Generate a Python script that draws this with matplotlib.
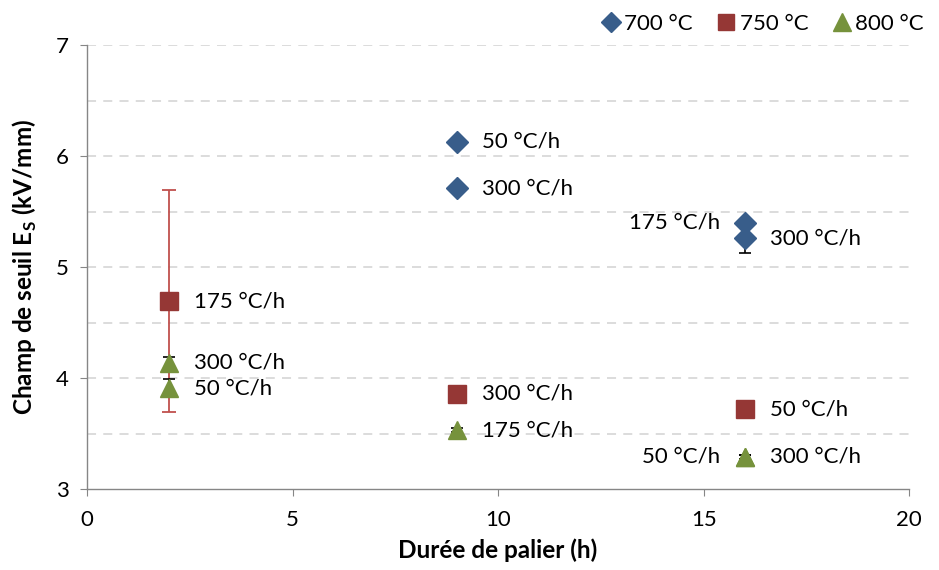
import matplotlib
matplotlib.use("Agg")
import matplotlib.pyplot as plt
from matplotlib.lines import Line2D

plt.rcParams['font.family'] = ['Lato', 'DejaVu Sans']

# Dwell time (h), threshold field (kV/mm), error, ramp label for each series
x700 = [9, 9, 16, 16]
y700 = [6.13, 5.71, 5.40, 5.26]
e700 = [0.02, 0.02, 0.02, 0.13]
lab700 = ["50 °C/h", "300 °C/h", "175 °C/h", "300 °C/h"]
side700 = ["right", "right", "left", "right"]

x750 = [2, 9, 16]
y750 = [4.69, 3.86, 3.72]
e750 = [1.0, 0.0, 0.0]
lab750 = ["175 °C/h", "300 °C/h", "50 °C/h"]
side750 = ["right", "right", "right"]

x800 = [2, 2, 9, 16, 16]
y800 = [4.14, 3.91, 3.53, 3.29, 3.29]
e800 = [0.05, 0.08, 0.02, 0.02, 0.02]
lab800 = ["300 °C/h", "50 °C/h", "175 °C/h", "50 °C/h", "300 °C/h"]
side800 = ["right", "right", "right", "left", "right"]

c_blue = "#385D8A"
c_red = "#953735"
c_green = "#76923C"

fs = 16
fs_lab = 17.5

fig = plt.figure(figsize=(9.39, 5.70), dpi=100)
ax = fig.add_axes([0.0927, 0.142, 0.8755, 0.779])

ax.set_xlim(0, 20)
ax.set_ylim(3, 7)
ax.set_xticks([0, 5, 10, 15, 20])
ax.set_yticks([3, 4, 5, 6, 7])
for y in [3.5, 4, 4.5, 5, 5.5, 6, 6.5, 7]:
    ax.axhline(y, color="#D9D9D9", lw=1.3, ls=(0, (5, 4)), zorder=0)

for s in ["top", "right"]:
    ax.spines[s].set_visible(False)
for s in ["left", "bottom"]:
    ax.spines[s].set_color("#868686")
    ax.spines[s].set_linewidth(1.0)
ax.tick_params(axis='both', which='major', colors="#868686", labelcolor="black",
               labelsize=fs, length=5, direction='out')
ax.tick_params(axis='x', pad=10)
ax.tick_params(axis='y', pad=8)

ms = 13
ax.errorbar(x750, y750, yerr=e750, fmt='none', ecolor="#C0504D", elinewidth=1.3,
            capsize=5, capthick=1.3, zorder=2)
ax.errorbar(x700, y700, yerr=e700, fmt='none', ecolor="black", elinewidth=1.2,
            capsize=4.5, capthick=1.2, zorder=2)
ax.errorbar(x800, y800, yerr=e800, fmt='none', ecolor="black", elinewidth=1.2,
            capsize=4.5, capthick=1.2, zorder=2)

ax.plot(x700, y700, 'D', color=c_blue, ms=ms * 0.85, ls='none', zorder=3)
ax.plot(x750, y750, 's', color=c_red, ms=ms * 0.95, ls='none', zorder=3)
ax.plot(x800, y800, '^', color=c_green, ms=ms * 1.05, ls='none', zorder=3)

def annotate(xs, ys, labels, sides):
    for xv, yv, t, sd in zip(xs, ys, labels, sides):
        if sd == "right":
            ax.annotate(t, (xv, yv), xytext=(18, 0), textcoords='offset points',
                        ha='left', va='center', fontsize=fs)
        else:
            ax.annotate(t, (xv, yv), xytext=(-18, 0), textcoords='offset points',
                        ha='right', va='center', fontsize=fs)

annotate(x700, y700, lab700, side700)
annotate(x750, y750, lab750, side750)
annotate(x800, y800, lab800, side800)

ax.set_xlabel("Durée de palier (h)", fontsize=fs_lab, fontweight='bold', labelpad=6)
ax.set_ylabel("Champ de seuil E$_\\mathregular{S}$ (kV/mm)", fontsize=fs_lab,
              fontweight='bold', labelpad=12)

handles = [
    Line2D([], [], marker='D', color=c_blue, ls='none', ms=10),
    Line2D([], [], marker='s', color=c_red, ls='none', ms=12),
    Line2D([], [], marker='^', color=c_green, ls='none', ms=13),
]
fig.legend(handles, ["700 °C", "750 °C", "800 °C"], loc='center right',
           bbox_to_anchor=(1.005, 0.958), ncol=3, frameon=False, fontsize=fs,
           handletextpad=0.1, columnspacing=1.0, handlelength=1.0)

fig.savefig("out.png", dpi=100)
